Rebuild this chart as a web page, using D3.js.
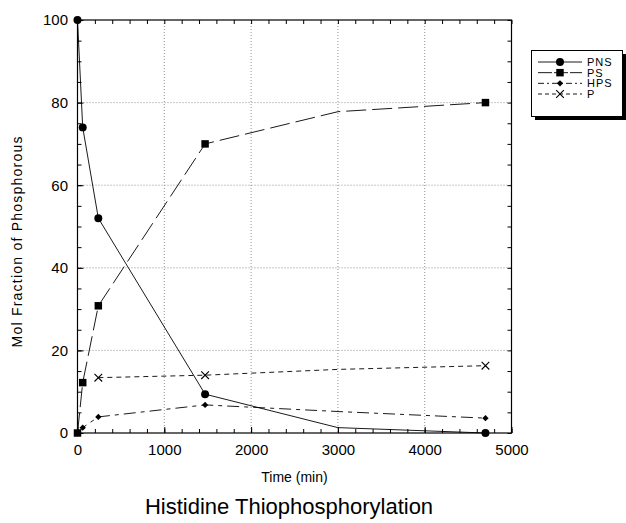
<!DOCTYPE html>
<html>
<head>
<meta charset="utf-8">
<script src="https://cdn.jsdelivr.net/npm/d3@7"></script>
<style>
  body { margin: 0; background: #fff; }
  svg text { font-family: "Liberation Sans", Arial, Helvetica, sans-serif; fill: #000; }
</style>
</head>
<body>
<div id="chart"></div>
<script>
// sampling times (min); 3000 is a line vertex with no marker in the original
const times = [0, 60, 240, 1470, 3000, 4700];
const markerTimes = [0, 60, 240, 1470, 4700];

// mol fraction of phosphorous (%) per species
const pns = [100, 74, 52, 9.4, 1.3, 0];
const ps  = [0, 12.2, 30.8, 70, 77.8, 80];
const hps = [0, 1.3, 3.9, 6.8, 5.2, 3.6];
const p   = [null, null, 13.4, 14.0, 15.4, 16.3];

const seriesNames = ["PNS", "PS", "HPS", "P"];
const xTicks = [0, 1000, 2000, 3000, 4000, 5000];
const yTicks = [0, 20, 40, 60, 80, 100];

const width = 626, height = 523;
const plotLeft = 77.5, plotRight = 511.5, plotTop = 20, plotBottom = 433;

const svg = d3.select('#chart')
    .append('svg')
    .attr('width', width)
    .attr('height', height);

const x = d3.scaleLinear().domain([0, 5000]).range([plotLeft, plotRight]);
const y = d3.scaleLinear().domain([0, 100]).range([plotBottom, plotTop]);

// dotted grid
const grid = svg.append('g')
    .attr('stroke', '#777')
    .attr('stroke-width', 0.8)
    .attr('stroke-dasharray', '1,2');
grid.selectAll('line.vx')
    .data(xTicks.slice(1, -1))
    .enter().append('line')
    .attr('x1', d => x(d)).attr('x2', d => x(d))
    .attr('y1', plotTop).attr('y2', plotBottom);
grid.selectAll('line.hy')
    .data(yTicks.slice(1, -1))
    .enter().append('line')
    .attr('x1', plotLeft).attr('x2', plotRight)
    .attr('y1', d => y(d)).attr('y2', d => y(d));

// frame
svg.append('rect')
    .attr('x', plotLeft).attr('y', plotTop)
    .attr('width', plotRight - plotLeft).attr('height', plotBottom - plotTop)
    .attr('fill', 'none')
    .attr('stroke', '#000')
    .attr('stroke-width', 1.2);

// axes, ticks pointing inward
function styleAxis(g) {
    g.select('.domain').remove();
    g.selectAll('line').attr('stroke', '#000').attr('stroke-width', 1);
}
const minorX = d3.range(0, 5001, 200);
const minorY = d3.range(0, 101, 5);

svg.append('g').attr('transform', `translate(0,${plotBottom})`)
    .call(d3.axisBottom(x).tickValues(minorX).tickSize(-4).tickFormat(''))
    .call(styleAxis);
const xAxis = svg.append('g').attr('transform', `translate(0,${plotBottom})`)
    .call(d3.axisBottom(x).tickValues(xTicks).tickSizeInner(-6).tickSizeOuter(0).tickPadding(11).tickFormat(d3.format('d')))
    .call(styleAxis);
xAxis.selectAll('text').attr('font-size', 15);

svg.append('g').attr('transform', `translate(0,${plotTop})`)
    .call(d3.axisTop(x).tickValues(minorX).tickSize(-4).tickFormat(''))
    .call(styleAxis);

svg.append('g').attr('transform', `translate(${plotLeft},0)`)
    .call(d3.axisLeft(y).tickValues(minorY).tickSize(-4).tickFormat(''))
    .call(styleAxis);
const yAxis = svg.append('g').attr('transform', `translate(${plotLeft},0)`)
    .call(d3.axisLeft(y).tickValues(yTicks).tickSizeInner(-6).tickSizeOuter(0).tickPadding(9.5))
    .call(styleAxis);
yAxis.selectAll('text').attr('font-size', 15);

svg.append('g').attr('transform', `translate(${plotRight},0)`)
    .call(d3.axisRight(y).tickValues(minorY).tickSize(-4).tickFormat(''))
    .call(styleAxis);

// series
const dashes = ['none', '20,6', '12,5,4,5', '5,4'];
const seriesValues = [pns, ps, hps, p];

const symbols = [
    d3.symbol().type(d3.symbolCircle).size(50),
    d3.symbol().type(d3.symbolSquare).size(56),
    d3.symbol().type(d3.symbolSquare).size(20),
    d3.symbol().type(d3.symbolX).size(40)
];
const rotations = [0, 0, 45, 0];

const line = d3.line()
    .defined(d => d[1] !== null)
    .x(d => x(d[0]))
    .y(d => y(d[1]));

seriesValues.forEach(function(vals, i) {
    const pts = times.map((t, j) => [t, vals[j]]);
    svg.append('path')
        .datum(pts)
        .attr('d', line)
        .attr('fill', 'none')
        .attr('stroke', '#000')
        .attr('stroke-width', 0.9)
        .attr('stroke-dasharray', dashes[i]);

    const marked = pts.filter(d => d[1] !== null && markerTimes.includes(d[0]));
    svg.selectAll('path.m' + i)
        .data(marked)
        .enter().append('path')
        .attr('class', 'm' + i)
        .attr('transform', d => `translate(${x(d[0])},${y(d[1])}) rotate(${rotations[i]})`)
        .attr('d', symbols[i])
        .attr('fill', i === 3 ? 'none' : '#000')
        .attr('stroke', '#000')
        .attr('stroke-width', i === 3 ? 1.1 : 0);
});

// legend
const lg = svg.append('g');
lg.append('rect')
    .attr('x', 535).attr('y', 54).attr('width', 91).attr('height', 66)
    .attr('fill', '#000');
lg.append('rect')
    .attr('x', 531.5).attr('y', 50.5).attr('width', 91).attr('height', 66)
    .attr('fill', '#fff').attr('stroke', '#000').attr('stroke-width', 1);

const rowY = d3.scaleLinear().domain([0, 3]).range([62, 94]);
seriesNames.forEach(function(name, i) {
    const yy = rowY(i);
    lg.append('line')
        .attr('x1', 538).attr('x2', 582)
        .attr('y1', yy).attr('y2', yy)
        .attr('stroke', '#000')
        .attr('stroke-width', 0.9)
        .attr('stroke-dasharray', i === 0 ? 'none' : (i === 1 ? '14,2' : (i === 2 ? '6,3,2,3' : '4,3')));
    lg.append('path')
        .attr('transform', `translate(560,${yy}) rotate(${rotations[i]})`)
        .attr('d', symbols[i])
        .attr('fill', i === 3 ? 'none' : '#000')
        .attr('stroke', '#000')
        .attr('stroke-width', i === 3 ? 1.1 : 0);
    lg.append('text')
        .attr('x', 587).attr('y', yy)
        .attr('dy', '0.36em')
        .attr('font-size', 11)
        .attr('letter-spacing', 1)
        .text(name);
});

// labels
svg.append('text')
    .attr('x', (plotLeft + plotRight) / 2).attr('y', 482)
    .attr('text-anchor', 'middle')
    .attr('font-size', 14)
    .text('Time (min)');

svg.append('text')
    .attr('transform', 'translate(22,242) rotate(-90)')
    .attr('text-anchor', 'middle')
    .attr('font-size', 14)
    .attr('textLength', 211)
    .attr('lengthAdjust', 'spacing')
    .text('Mol Fraction of Phosphorous');

svg.append('text')
    .attr('x', 289).attr('y', 514)
    .attr('text-anchor', 'middle')
    .attr('font-size', 22)
    .text('Histidine Thiophosphorylation');
</script>
</body>
</html>
